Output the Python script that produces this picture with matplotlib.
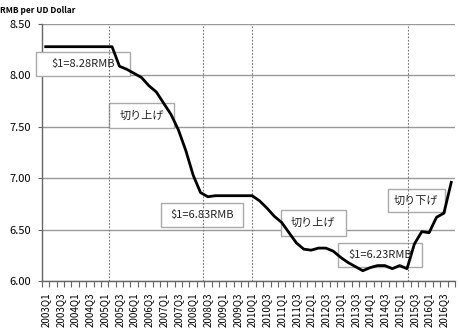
import matplotlib
matplotlib.use("Agg")
import matplotlib.pyplot as plt
from matplotlib.patches import Rectangle
from matplotlib.ticker import FixedLocator, NullFormatter

plt.rcParams['font.family'] = ['Noto Sans CJK JP', 'DejaVu Sans']

# quarterly RMB per US dollar, 2003Q1 .. 2016Q4
years = list(range(2003, 2017))
quarters = [f"{y}Q{q}" for y in years for q in (1, 2, 3, 4)]
rate = [8.28, 8.28, 8.28, 8.28, 8.28, 8.28, 8.28, 8.28, 8.28, 8.28,
        8.09, 8.06, 8.02, 7.98, 7.90, 7.84, 7.73, 7.62, 7.47, 7.27,
        7.03, 6.86, 6.82, 6.83, 6.83, 6.83, 6.83, 6.83, 6.83, 6.78,
        6.71, 6.63, 6.57, 6.47, 6.37, 6.31, 6.30, 6.32, 6.32, 6.29,
        6.23, 6.18, 6.14, 6.10, 6.13, 6.15, 6.15, 6.12, 6.15, 6.12,
        6.36, 6.48, 6.47, 6.62, 6.66, 6.96]

# event markers (quarter index) and annotation boxes
event_x = [8.6, 21.4, 28.0, 49.1]
notes = ["$1=8.28RMB", "切り上げ", "$1=6.83RMB", "切り上げ", "$1=6.23RMB", "切り下げ"]
note_x0 = [-1.36, 8.65, 15.7, 31.9, 39.7, 46.4]
note_x1 = [11.4, 17.4, 26.8, 40.7, 51.1, 54.1]
note_y0 = [7.995, 7.49, 6.528, 6.437, 6.133, 6.674]
note_y1 = [8.23, 7.734, 6.762, 6.69, 6.367, 6.892]

fig = plt.figure(figsize=(4.6, 3.3), dpi=100)
ax = fig.add_axes([0.0913, 0.1485, 0.8977, 0.7785])

x = list(range(len(quarters)))
ax.plot(x, rate, color='black', lw=2.0, solid_joinstyle='round', zorder=5)

for ex in event_x:
    ax.axvline(ex, color='#777777', lw=0.8, ls=(0, (1.5, 1.5)), zorder=4)

for t, x0, x1, y0, y1 in zip(notes, note_x0, note_x1, note_y0, note_y1):
    ax.add_patch(Rectangle((x0, y0), x1 - x0, y1 - y0, facecolor='white',
                           edgecolor='#aaaaaa', lw=1.0, zorder=3, clip_on=False))
    ax.text((x0 + x1) / 2, (y0 + y1) / 2, t.replace('$', r'\$'), ha='center', va='center',
            fontsize=8, color='#222222', zorder=6)

ax.set_xlim(-0.5, len(quarters) - 0.5)
ax.set_ylim(6.0, 8.5)
ax.set_yticks([6.0, 6.5, 7.0, 7.5, 8.0, 8.5])
ax.set_yticklabels([f"{v:.2f}" for v in [6.0, 6.5, 7.0, 7.5, 8.0, 8.5]], fontsize=8)
ax.yaxis.grid(True, color='#999999', lw=1.0, zorder=0)
ax.set_axisbelow(True)

ax.set_xticks(x[::2])
ax.set_xticklabels(quarters[::2], rotation=90, fontsize=7)
ax.tick_params(axis='x', which='major', length=0, pad=8)
ax.xaxis.set_minor_locator(FixedLocator([i + 0.5 for i in range(-1, len(quarters))]))
ax.xaxis.set_minor_formatter(NullFormatter())
ax.tick_params(axis='x', which='minor', length=4, color='#666666', width=0.8)
ax.tick_params(axis='y', length=3, color='#666666', width=0.8, pad=5)

for s in ['top', 'right']:
    ax.spines[s].set_visible(False)
for s in ['left', 'bottom']:
    ax.spines[s].set_color('#666666')
    ax.spines[s].set_linewidth(1.0)

fig.text(0.0, 0.967, "RMB per UD Dollar", fontsize=6, fontweight='bold',
         ha='left', va='center')

fig.savefig('out.png', dpi=100)
